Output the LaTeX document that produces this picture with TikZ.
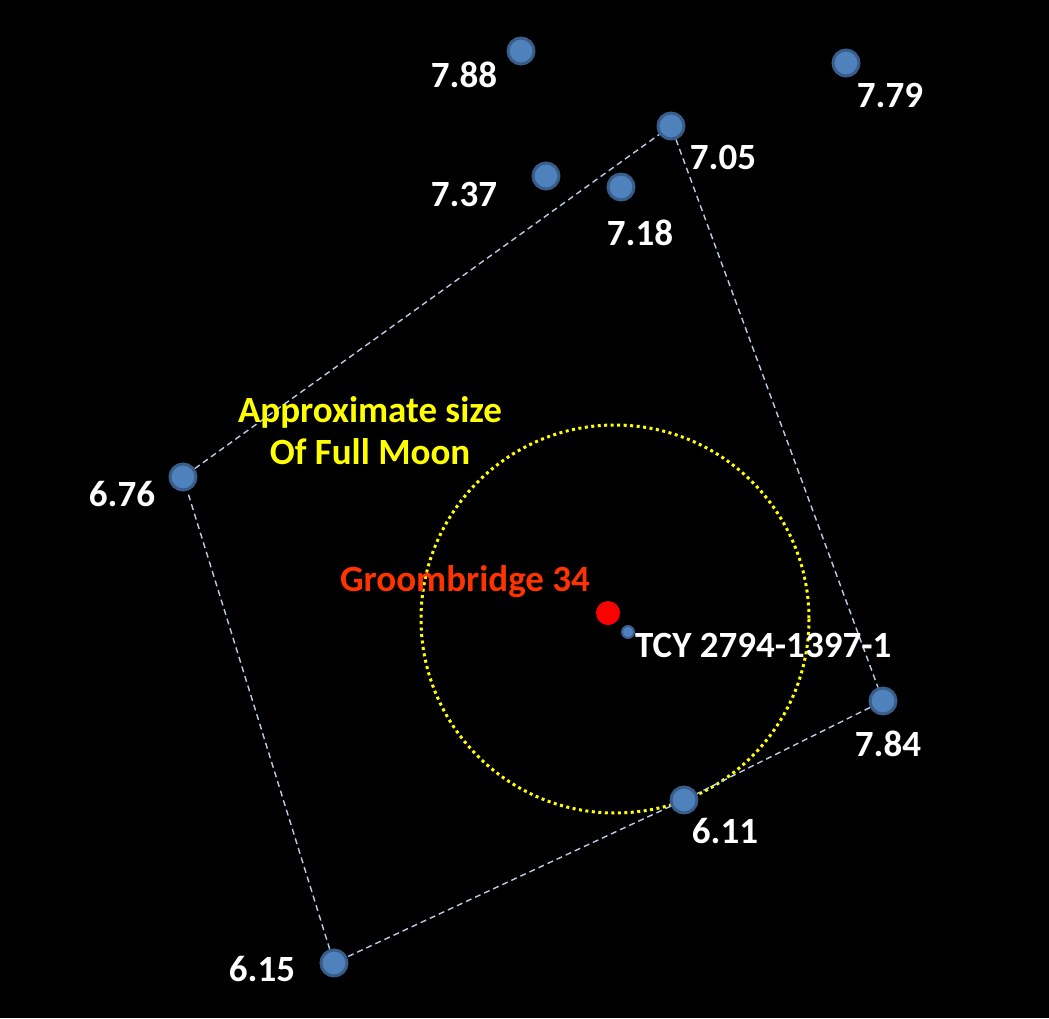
\documentclass[tikz,border=0pt]{standalone}
\usepackage{fontspec}
\setmainfont{Carlito}
\definecolor{starBlue}{HTML}{4F81BD}
\definecolor{starEdge}{HTML}{385D8A}
\definecolor{linkGray}{HTML}{B9CDE5}
\definecolor{moonYellow}{HTML}{FFFF00}
\definecolor{gbRed}{HTML}{FF0000}
\definecolor{gbText}{HTML}{FF3300}

\begin{document}
\begin{tikzpicture}[x=1pt,y=-1pt,font=\fontsize{37}{42}\selectfont\bfseries,
  star/.style={circle,fill=starBlue,draw=starEdge,line width=3pt,minimum size=26pt,inner sep=0pt},
  mag/.style={text=white,inner sep=0pt},
  link/.style={draw=linkGray,line width=1.4pt,dash pattern=on 6pt off 4pt}]
  \useasboundingbox (0,0) rectangle (1049,1018);
  \fill[black] (0,0) rectangle (1049,1018);
  % moon size circle
  \draw[moonYellow,line width=3pt,dash pattern=on 3pt off 3.5pt] (615,619) circle[radius=194];
  % field stars
  \node[star] (s788) at (521,51) {};
  \node[star] (s779) at (846,63) {};
  \node[star] (s705) at (671,126) {};
  \node[star] (s737) at (546,176) {};
  \node[star] (s718) at (621,187) {};
  \node[star] (s676) at (183,477) {};
  \node[star] (s784) at (883,701) {};
  \node[star] (s611) at (684,800) {};
  \node[star] (s615) at (334,963) {};
  % outline
  \draw[link] (s676) -- (s705);
  \draw[link] (s705) -- (s784);
  \draw[link] (s784) -- (s611);
  \draw[link] (s611) -- (s615);
  \draw[link] (s615) -- (s676);
  % magnitudes
  \node[mag] (m788) at (464,75) {7.88};
  \node[mag] (m779) at (890,95) {7.79};
  \node[mag] (m705) at (723,157) {7.05};
  \node[mag] (m737) at (464,194) {7.37};
  \node[mag] (m718) at (640,233) {7.18};
  \node[mag] (m676) at (122,494) {6.76};
  \node[mag] (m784) at (888,744) {7.84};
  \node[mag] (m611) at (725,831) {6.11};
  \node[mag] (m615) at (262,969) {6.15};
  % target
  \node[circle,fill=gbRed,minimum size=24pt,inner sep=0pt] (gb34) at (608,613) {};
  \node[circle,fill=starBlue,draw=starEdge,line width=2pt,minimum size=12pt,inner sep=0pt] (tcy) at (628,632) {};
  \node[text=gbText,inner sep=0pt] (gbname) at (465,582) {Groombridge 34};
  \node[mag,anchor=west] (tcyname) at (635,645) {TCY 2794-1397-1};
  \node[text=moonYellow,align=center,inner sep=0pt] (moonnote) at (370,431) {Approximate size\\Of Full Moon};
\end{tikzpicture}
\end{document}
